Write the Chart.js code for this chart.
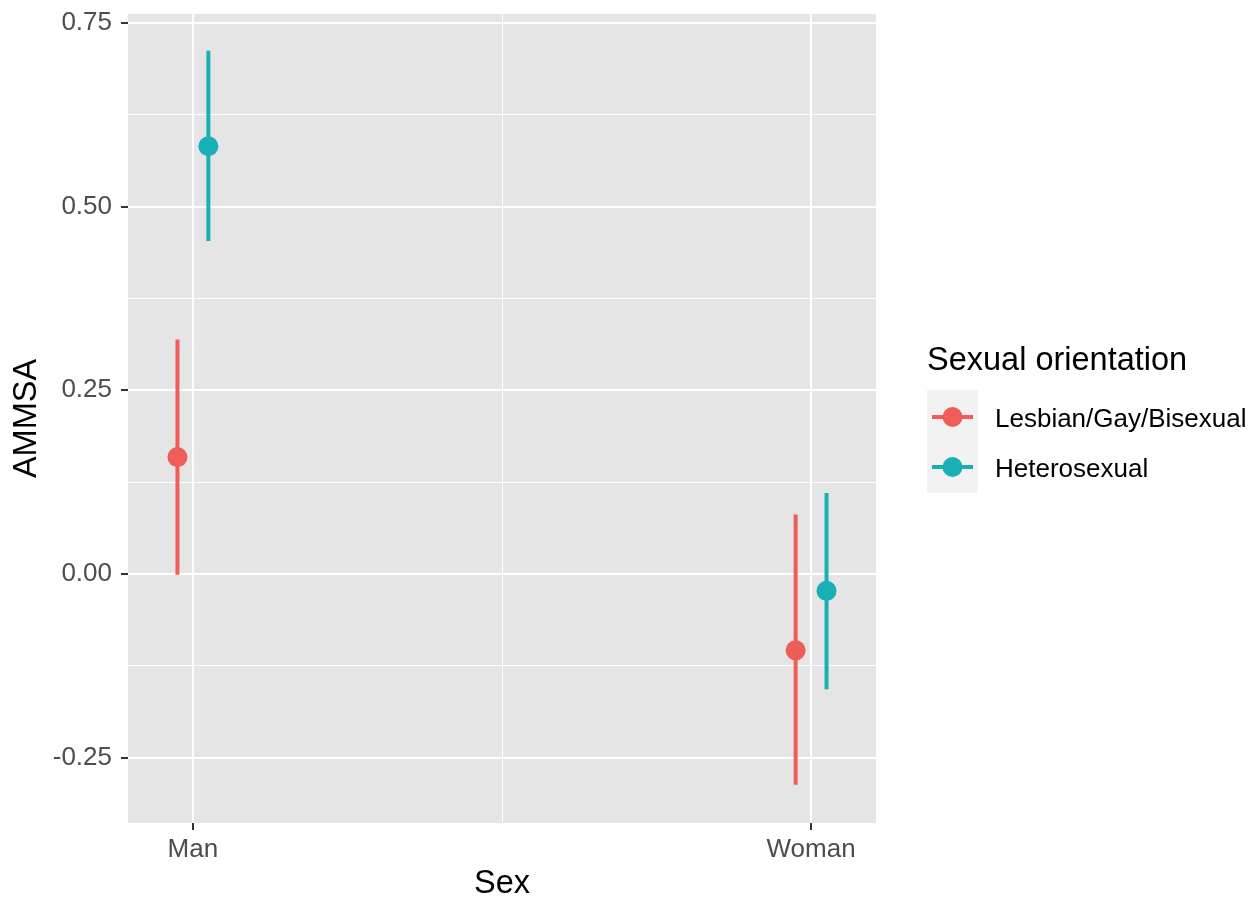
<!DOCTYPE html>
<html>
<head>
<meta charset="utf-8">
<script src="https://cdn.jsdelivr.net/npm/chart.js@4.4.1/dist/chart.umd.min.js"></script>
<style>
  body { margin: 0; background: #fff; }
  #wrap { width: 1258px; height: 900px; }
</style>
</head>
<body>
<div id="wrap"><canvas id="chart" width="1258" height="900"></canvas></div>
<script>
// data
const sexes = ['Man', 'Woman'];
const groups = ['Lesbian/Gay/Bisexual', 'Heterosexual'];
const groupColors = ['#EF5D58', '#19B0B5'];
const lgbMean = [0.159, -0.104];
const lgbLower = [-0.001, -0.287];
const lgbUpper = [0.319, 0.081];
const hetMean = [0.582, -0.023];
const hetLower = [0.453, -0.157];
const hetUpper = [0.712, 0.110];
const yTicks = [-0.25, 0, 0.25, 0.5, 0.75];
const yMinor = [-0.125, 0.125, 0.375, 0.625];
const xMinor = [1.5];
const dodge = 0.025;

const means = [lgbMean, hetMean];
const lowers = [lgbLower, hetLower];
const uppers = [lgbUpper, hetUpper];

Chart.defaults.font.family = '"Liberation Sans", Arial, sans-serif';

// one dataset per error bar, then the points on top
var datasets = [];
groups.forEach(function (g, gi) {
  var off = gi === 0 ? -dodge : dodge;
  sexes.forEach(function (s, si) {
    datasets.push({
      type: 'line',
      label: g + ' ' + s + ' range',
      data: [{x: si + 1 + off, y: lowers[gi][si]}, {x: si + 1 + off, y: uppers[gi][si]}],
      borderColor: groupColors[gi],
      borderWidth: 4,
      pointRadius: 0,
      borderCapStyle: 'butt'
    });
  });
});
groups.forEach(function (g, gi) {
  var off = gi === 0 ? -dodge : dodge;
  datasets.push({
    type: 'scatter',
    label: g,
    data: sexes.map(function (s, si) { return {x: si + 1 + off, y: means[gi][si]}; }),
    backgroundColor: groupColors[gi],
    borderWidth: 0,
    pointRadius: 10
  });
});

const panelBg = {
  id: 'panelBg',
  beforeDraw(chart) {
    const {ctx, chartArea: a} = chart;
    ctx.save();
    ctx.fillStyle = '#e5e5e5';
    ctx.fillRect(a.left, a.top, a.right - a.left, a.bottom - a.top);
    ctx.restore();
  }
};

const ggLegend = {
  id: 'ggLegend',
  afterDraw(chart) {
    const ctx = chart.ctx;
    ctx.save();
    ctx.fillStyle = '#000';
    ctx.textBaseline = 'alphabetic';
    ctx.font = '32.5px "Liberation Sans", Arial, sans-serif';
    ctx.fillText('Sexual orientation', 927, 370);
    ctx.fillStyle = '#f2f2f2';
    ctx.fillRect(927, 390, 51, 103);
    groups.forEach(function (g, i) {
      var cy = 417 + i * 50;
      ctx.strokeStyle = groupColors[i];
      ctx.lineWidth = 4;
      ctx.beginPath();
      ctx.moveTo(932, cy);
      ctx.lineTo(973, cy);
      ctx.stroke();
      ctx.fillStyle = groupColors[i];
      ctx.beginPath();
      ctx.arc(952.5, cy, 10, 0, Math.PI * 2);
      ctx.fill();
      ctx.fillStyle = '#000';
      ctx.font = '26px "Liberation Sans", Arial, sans-serif';
      ctx.fillText(g, 995, cy + 9.5);
    });
    ctx.restore();
  }
};

new Chart(document.getElementById('chart'), {
  type: 'scatter',
  data: {datasets: datasets},
  plugins: [panelBg, ggLegend],
  options: {
    responsive: false,
    animation: false,
    devicePixelRatio: 1,
    layout: {padding: {top: 14, right: 382, bottom: 0, left: 0}},
    plugins: {legend: {display: false}, tooltip: {enabled: false}},
    scales: {
      x: {
        type: 'linear',
        min: 0.895,
        max: 2.105,
        afterBuildTicks: function (s) {
          s.ticks = [1, 1.5, 2].map(function (v) { return {value: v}; });
        },
        afterFit: function (s) { s.height = 77; s.paddingLeft = 0; s.paddingRight = 0; },
        ticks: {
          autoSkip: false,
          maxRotation: 0,
          color: '#4d4d4d',
          font: {size: 26},
          padding: 4,
          callback: function (v) { return Number.isInteger(v) ? sexes[v - 1] : ''; }
        },
        grid: {
          color: '#ffffff',
          lineWidth: function (c) { return xMinor.includes(c.tick.value) ? 1 : 2; },
          tickColor: function (c) { return xMinor.includes(c.tick.value) ? 'rgba(0,0,0,0)' : '#333333'; },
          tickLength: 7,
          tickWidth: 2
        },
        border: {display: false},
        title: {display: true, text: 'Sex', color: '#000', font: {size: 32.5, lineHeight: 1}, padding: {top: 0, bottom: 0}}
      },
      y: {
        type: 'linear',
        min: -0.339,
        max: 0.762,
        afterBuildTicks: function (s) {
          s.ticks = yTicks.concat(yMinor).sort(function (a, b) { return a - b; }).map(function (v) { return {value: v}; });
        },
        afterFit: function (s) { s.width = 128; s.paddingTop = 0; s.paddingBottom = 0; },
        ticks: {
          autoSkip: false,
          color: '#4d4d4d',
          font: {size: 26},
          padding: 9,
          callback: function (v) { return yTicks.includes(v) ? v.toFixed(2) : ''; }
        },
        grid: {
          color: '#ffffff',
          lineWidth: function (c) { return yMinor.includes(c.tick.value) ? 1 : 2; },
          tickColor: function (c) { return yMinor.includes(c.tick.value) ? 'rgba(0,0,0,0)' : '#333333'; },
          tickLength: 7,
          tickWidth: 2
        },
        border: {display: false},
        title: {display: true, text: 'AMMSA', color: '#000', font: {size: 32.5, lineHeight: 1}, padding: {top: 11, bottom: 0}}
      }
    }
  }
});
</script>
</body>
</html>
